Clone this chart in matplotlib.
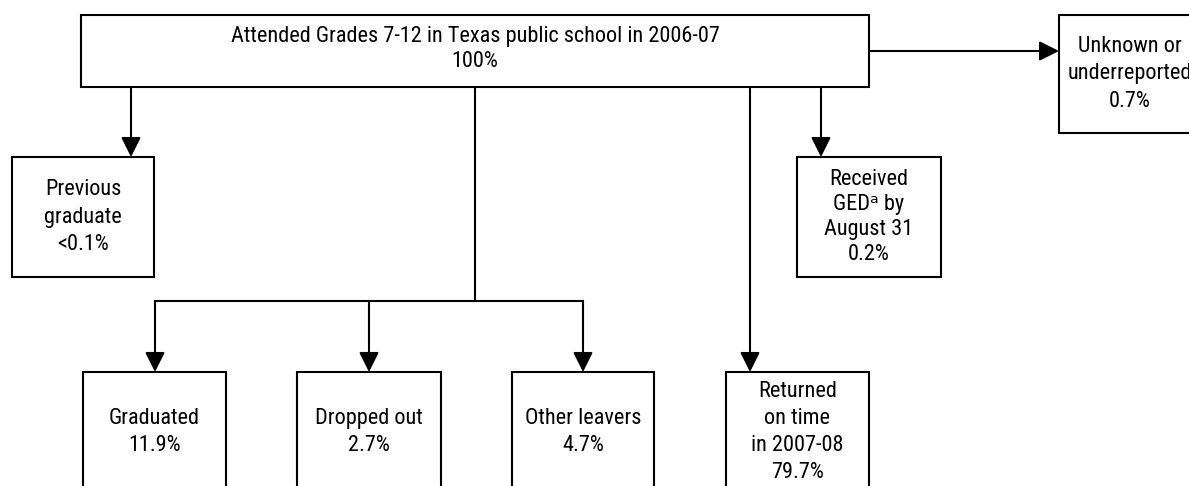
import matplotlib
matplotlib.use("Agg")
import matplotlib.pyplot as plt
from matplotlib import font_manager
from matplotlib.patches import Rectangle

# node labels and shares
top_label = "Attended Grades 7-12 in Texas public school in 2006-07"
top_pct = "100%"
side_labels = ["Previous\ngraduate", "Received\nGED\u1d43 by\nAugust 31", "Unknown or\nunderreported"]
side_pcts = ["<0.1%", "0.2%", "0.7%"]
bottom_labels = ["Graduated", "Dropped out", "Other leavers", "Returned\non time\nin 2007-08"]
bottom_pcts = ["11.9%", "2.7%", "4.7%", "79.7%"]

# narrow font, like the Arial Narrow of the original
names = {f.name for f in font_manager.fontManager.ttflist}
main_font = 'Liberation Sans'
for n in ['Liberation Sans Narrow', 'Arial Narrow', 'Roboto Condensed', 'PT Sans Narrow', 'Archivo Narrow']:
    if n in names:
        main_font = n
        break
plt.rcParams['font.family'] = [main_font, 'DejaVu Sans']

fig = plt.figure(figsize=(11.89, 4.86), dpi=100)
ax = fig.add_axes([0, 0, 1, 1])
ax.set_xlim(0, 1189)
ax.set_ylim(486, 0)
ax.axis('off')

# pick the size so "Graduated" is about 91 px wide
r = fig.canvas.get_renderer()
t = ax.text(0, 0, "Graduated", fontsize=10)
w10 = t.get_window_extent(r).width
t.remove()
fs = 10 * 91 / w10

# line step at linespacing=1, to get the wanted px between lines
t1 = ax.text(0, 0, "A", fontsize=fs, linespacing=1)
t2 = ax.text(0, 0, "A\nA", fontsize=fs, linespacing=1)
step = t2.get_window_extent(r).height - t1.get_window_extent(r).height
t1.remove()
t2.remove()
LW = 1.5

def box(x0, y0, x1, y1, text, gap=28.5, dy=0):
    ax.add_patch(Rectangle((x0, y0), x1 - x0, y1 - y0, facecolor='white',
                           edgecolor='black', lw=LW, zorder=2))
    ax.text((x0 + x1) / 2, (y0 + y1) / 2 + dy, text, ha='center', va='center',
            fontsize=fs, linespacing=gap / step, zorder=3)

def arrow(x0, y0, x1, y1):
    ax.annotate('', xy=(x1, y1), xytext=(x0, y0),
                arrowprops=dict(arrowstyle='-|>,head_length=0.6,head_width=0.3',
                                mutation_scale=20, lw=LW, color='black',
                                shrinkA=0, shrinkB=0), zorder=1)

# top box
box(81, 15, 869, 87, top_label + "\n" + top_pct, gap=26, dy=-2)

# side boxes
side_boxes = [(12, 157, 154, 277), (797, 157, 941, 277), (1059, 15, 1201, 133)]
side_gaps = [29, 26.5, 29.5]
for (x0, y0, x1, y1), lab, p, g in zip(side_boxes, side_labels, side_pcts, side_gaps):
    box(x0, y0, x1, y1, lab + "\n" + p, gap=g)

arrow(131, 87, 131, 157)
arrow(821, 87, 821, 157)
arrow(869, 51, 1059, 51)

# bottom boxes
bottom_boxes = [(83, 372, 226, 492), (297, 372, 441, 492), (512, 372, 654, 492), (726, 372, 869, 492)]
for (x0, y0, x1, y1), lab, p in zip(bottom_boxes, bottom_labels, bottom_pcts):
    box(x0, y0, x1, y1, lab + "\n" + p, gap=28.5)

# trunk into the three leaver boxes
ax.plot([475, 475], [87, 301], color='black', lw=LW, zorder=1)
ax.plot([155, 583], [301, 301], color='black', lw=LW, zorder=1, solid_capstyle='projecting')
for x in [155, 369, 583]:
    arrow(x, 301, x, 372)
arrow(750, 87, 750, 372)

fig.savefig("out.png", dpi=100)
